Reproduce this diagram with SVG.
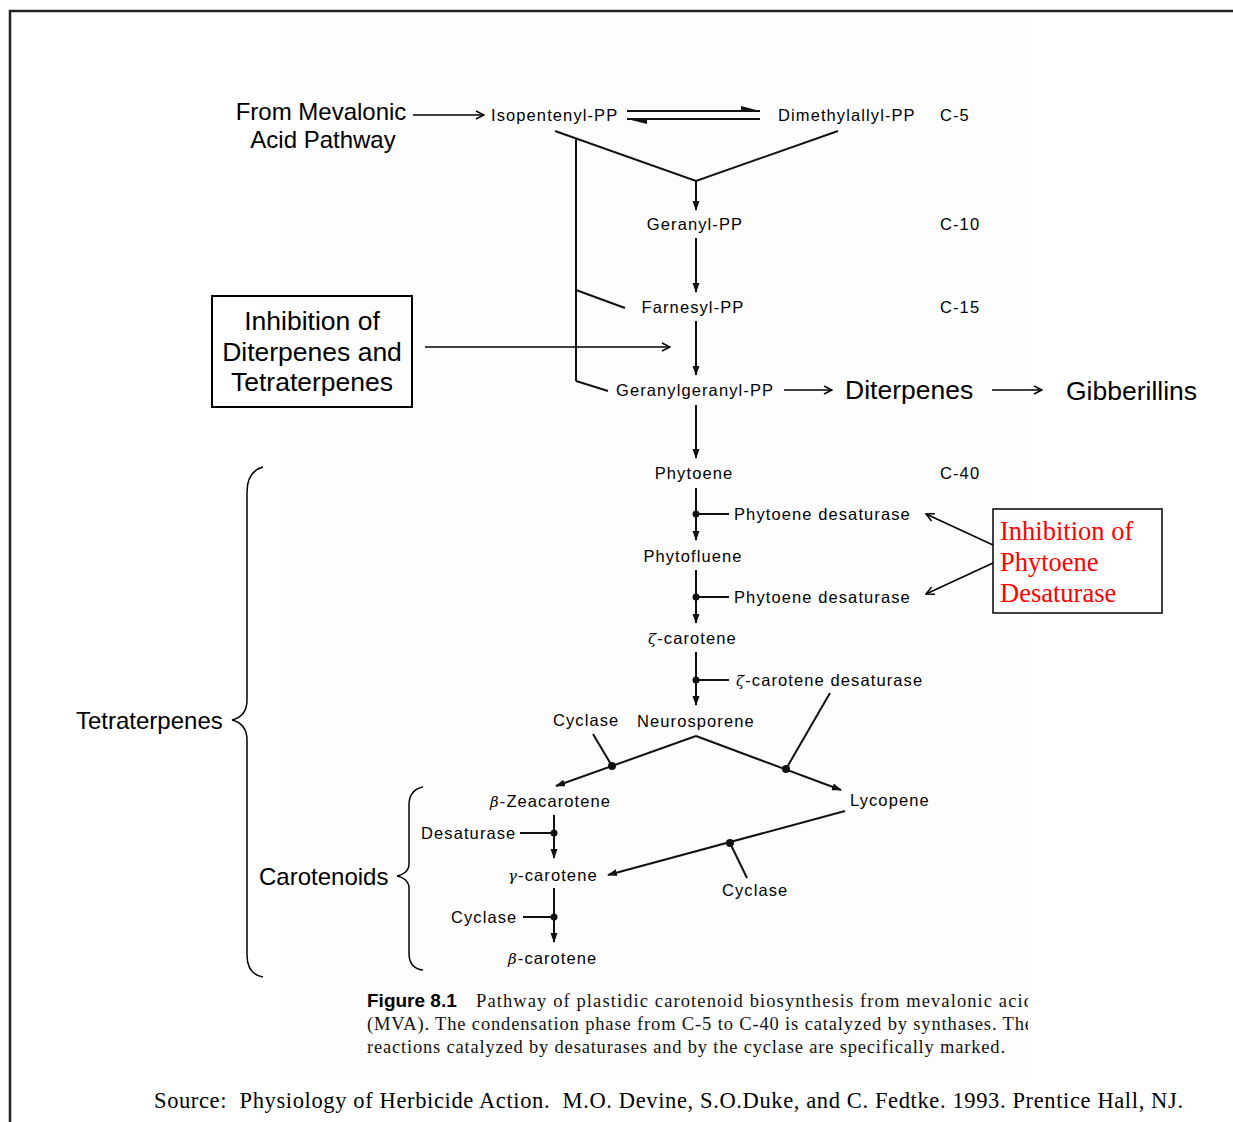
<svg xmlns="http://www.w3.org/2000/svg" width="1233" height="1122" viewBox="0 0 1233 1122">
<style>
.lbl{font-family:"Liberation Sans",Arial,sans-serif;font-size:16.5px;letter-spacing:1.1px;fill:#000}
.big{font-family:"Liberation Sans",Arial,sans-serif;font-size:24px;fill:#000}
.big2{font-family:"Liberation Sans",Arial,sans-serif;font-size:26.5px;fill:#000}
.red{font-family:"Liberation Serif","Times New Roman",serif;font-size:26.5px;fill:#ff0000}
.cap{font-family:"Liberation Serif","Times New Roman",serif;font-size:18.5px;fill:#111}
.src{font-family:"Liberation Serif","Times New Roman",serif;font-size:22.5px;fill:#000;white-space:pre}
.gk{font-family:"DejaVu Serif",serif;font-style:italic;font-size:15px}
.ln{fill:none;stroke:#111;stroke-width:2}
.thin{fill:none;stroke:#000;stroke-width:1.5}
.dot{fill:#111}
</style>
<defs>
<marker id="tri" markerWidth="10" markerHeight="8" refX="9" refY="4" orient="auto" markerUnits="userSpaceOnUse"><path d="M0,0.5 L10,4 L0,7.5 Z" fill="#111"/></marker>
<marker id="vee" markerWidth="10" markerHeight="10" refX="9" refY="5" orient="auto" markerUnits="userSpaceOnUse"><path d="M1,1 L9,5 L1,9" fill="none" stroke="#000" stroke-width="1.5"/></marker>
<clipPath id="capclip"><rect x="300" y="980" width="728" height="90"/></clipPath>
</defs>
<rect x="0" y="0" width="1233" height="1122" fill="#fff"/>
<rect x="280" y="20" width="750" height="1055" fill="#fdfdfd"/>
<path d="M10,1122 V11 H1233" fill="none" stroke="#222" stroke-width="2.5"/>

<g id="connectors">
<line class="thin" x1="413" y1="115" x2="484" y2="115" marker-end="url(#vee)"/>
<line class="ln" x1="627" y1="111" x2="760" y2="111"/>
<path d="M741,106 L760,111 L741,111 Z" fill="#111"/>
<line class="ln" x1="627" y1="119" x2="760" y2="119"/>
<path d="M627,119 L647,124 L647,119 Z" fill="#111"/>
<polyline class="ln" points="555,131 696,181 838,131"/>
<line class="ln" x1="696" y1="181" x2="696" y2="210" marker-end="url(#tri)"/>
<line class="ln" x1="576" y1="139" x2="576" y2="381"/>
<line class="ln" x1="576" y1="290" x2="625" y2="308"/>
<line class="ln" x1="576" y1="381" x2="608" y2="391"/>
<line class="ln" x1="696" y1="238" x2="696" y2="292" marker-end="url(#tri)"/>
<line class="ln" x1="696" y1="321" x2="696" y2="375" marker-end="url(#tri)"/>
<line class="thin" x1="425" y1="347" x2="670" y2="347" marker-end="url(#vee)"/>
<line class="thin" x1="784" y1="390" x2="832" y2="390" marker-end="url(#vee)"/>
<line class="thin" x1="992" y1="390" x2="1042" y2="390" marker-end="url(#vee)"/>
<line class="ln" x1="696" y1="405" x2="696" y2="458" marker-end="url(#tri)"/>
<line class="ln" x1="696" y1="488" x2="696" y2="540" marker-end="url(#tri)"/>
<circle class="dot" cx="696" cy="514" r="3.5"/>
<line class="ln" x1="696" y1="514" x2="729" y2="514"/>
<line class="ln" x1="696" y1="570" x2="696" y2="623" marker-end="url(#tri)"/>
<circle class="dot" cx="696" cy="597" r="3.5"/>
<line class="ln" x1="696" y1="597" x2="729" y2="597"/>
<line class="ln" x1="696" y1="652" x2="696" y2="705" marker-end="url(#tri)"/>
<circle class="dot" cx="696" cy="680" r="3.5"/>
<line class="ln" x1="696" y1="680" x2="729" y2="680"/>
<line class="thin" x1="993" y1="545" x2="926" y2="514" marker-end="url(#vee)"/>
<line class="thin" x1="993" y1="563" x2="926" y2="594" marker-end="url(#vee)"/>
<line class="ln" x1="696" y1="736" x2="556" y2="786" marker-end="url(#tri)"/>
<line class="ln" x1="696" y1="736" x2="841" y2="790" marker-end="url(#tri)"/>
<circle class="dot" cx="612" cy="766" r="4"/>
<circle class="dot" cx="786" cy="769" r="4"/>
<line class="ln" x1="593" y1="734" x2="612" y2="766"/>
<line class="ln" x1="830" y1="693" x2="786" y2="769"/>
<line class="ln" x1="554" y1="815" x2="554" y2="858" marker-end="url(#tri)"/>
<circle class="dot" cx="554" cy="833" r="3.5"/>
<line class="ln" x1="520" y1="833" x2="554" y2="833" stroke-width="2.5"/>
<line class="ln" x1="845" y1="811" x2="608" y2="875" marker-end="url(#tri)"/>
<circle class="dot" cx="730" cy="843" r="4"/>
<line class="ln" x1="730" y1="843" x2="747" y2="878"/>
<line class="ln" x1="554" y1="888" x2="554" y2="942" marker-end="url(#tri)"/>
<circle class="dot" cx="554" cy="917" r="3.5"/>
<line class="ln" x1="523" y1="917" x2="554" y2="917"/>
</g>

<g id="n-mevalonic"><text class="big" x="321" y="120" text-anchor="middle">From Mevalonic</text><text class="big" x="323" y="148" text-anchor="middle">Acid Pathway</text></g>
<g id="n-ipp"><text class="lbl" x="491" y="121">Isopentenyl-PP</text></g>
<g id="n-dmapp"><text class="lbl" x="778" y="121">Dimethylallyl-PP</text></g>
<g id="n-c5"><text class="lbl" x="940" y="121">C-5</text></g>
<g id="n-gpp"><text class="lbl" x="695" y="230" text-anchor="middle">Geranyl-PP</text></g>
<g id="n-c10"><text class="lbl" x="940" y="230">C-10</text></g>
<g id="n-fpp"><text class="lbl" x="693" y="313" text-anchor="middle">Farnesyl-PP</text></g>
<g id="n-c15"><text class="lbl" x="940" y="313">C-15</text></g>
<g id="n-inhib1"><rect x="212" y="296" width="200" height="111" fill="none" stroke="#000" stroke-width="2"/>
<text class="big2" x="312" y="330" text-anchor="middle">Inhibition of</text>
<text class="big2" x="312" y="361" text-anchor="middle">Diterpenes and</text>
<text class="big2" x="312" y="391" text-anchor="middle">Tetraterpenes</text></g>
<g id="n-ggpp"><text class="lbl" x="616" y="396">Geranylgeranyl-PP</text></g>
<g id="n-diterpenes"><text class="big2" x="845" y="399">Diterpenes</text></g>
<g id="n-gibberillins"><text class="big2" x="1066" y="400">Gibberillins</text></g>
<g id="n-phytoene"><text class="lbl" x="694" y="479" text-anchor="middle">Phytoene</text></g>
<g id="n-c40"><text class="lbl" x="940" y="479">C-40</text></g>
<g id="n-pds1"><text class="lbl" x="734" y="520">Phytoene desaturase</text></g>
<g id="n-phytofluene"><text class="lbl" x="693" y="562" text-anchor="middle">Phytofluene</text></g>
<g id="n-pds2"><text class="lbl" x="734" y="603">Phytoene desaturase</text></g>
<g id="n-inhib2"><rect x="993" y="509" width="169" height="104" fill="none" stroke="#000" stroke-width="1.5"/>
<text class="red" x="1000" y="540">Inhibition of</text>
<text class="red" x="1000" y="571">Phytoene</text>
<text class="red" x="1000" y="602">Desaturase</text></g>
<g id="n-zcar"><text class="lbl" x="648" y="644"><tspan class="gk">ζ</tspan>-carotene</text></g>
<g id="n-zds"><text class="lbl" x="736" y="686"><tspan class="gk">ζ</tspan>-carotene desaturase</text></g>
<g id="n-cyclase1"><text class="lbl" x="553" y="726">Cyclase</text></g>
<g id="n-neurosporene"><text class="lbl" x="637" y="727">Neurosporene</text></g>
<g id="n-bzea"><text class="lbl" x="490" y="807"><tspan class="gk">β</tspan>-Zeacarotene</text></g>
<g id="n-lycopene"><text class="lbl" x="850" y="806">Lycopene</text></g>
<g id="n-desaturase"><text class="lbl" x="421" y="839">Desaturase</text></g>
<g id="n-gcar"><text class="lbl" x="508" y="881"><tspan class="gk">γ</tspan>-carotene</text></g>
<g id="n-cyclase2"><text class="lbl" x="722" y="896">Cyclase</text></g>
<g id="n-cyclase3"><text class="lbl" x="451" y="923">Cyclase</text></g>
<g id="n-bcar"><text class="lbl" x="508" y="964"><tspan class="gk">β</tspan>-carotene</text></g>

<g id="n-tetraterpenes">
<path class="thin" d="M263,467 C252,470 247,478 247,492 L247,700 C247,712 240,718 232,720 C240,722 247,728 247,740 L247,955 C247,968 252,975 263,977"/>
<text class="big" x="76" y="729">Tetraterpenes</text></g>
<g id="n-carotenoids">
<path class="thin" d="M423,787 C413,789 409,795 409,805 L409,864 C409,871 403,875 397,876 C403,877 409,881 409,888 L409,953 C409,963 413,969 423,970"/>
<text class="big" x="259" y="885">Carotenoids</text></g>

<g id="caption" clip-path="url(#capclip)">
<text x="367" y="1007" style="font-family:'Liberation Sans',Arial,sans-serif;font-weight:bold;font-size:19px;fill:#000">Figure 8.1</text>
<text class="cap" x="476" y="1007" textLength="557" lengthAdjust="spacing">Pathway of plastidic carotenoid biosynthesis from mevalonic acid</text>
<text class="cap" x="367" y="1030" textLength="666" lengthAdjust="spacing">(MVA). The condensation phase from C-5 to C-40 is catalyzed by synthases. The</text>
<text class="cap" x="367" y="1053" textLength="638" lengthAdjust="spacing">reactions catalyzed by desaturases and by the cyclase are specifically marked.</text>
</g>
<g id="source"><text class="src" x="154" y="1108" textLength="1029" lengthAdjust="spacing">Source:  Physiology of Herbicide Action.  M.O. Devine, S.O.Duke, and C. Fedtke. 1993. Prentice Hall, NJ.</text></g>
</svg>
